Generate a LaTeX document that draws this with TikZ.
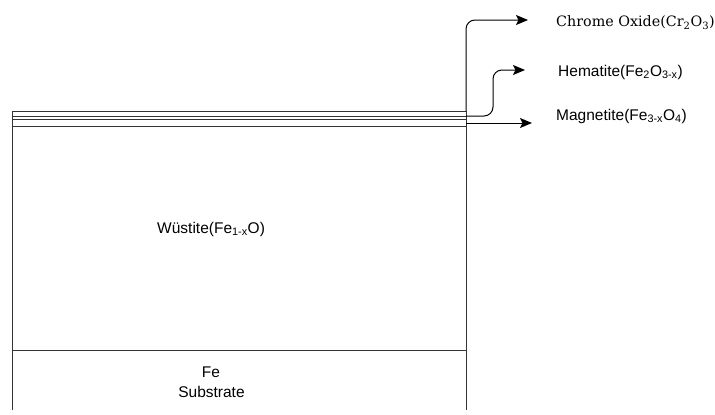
\documentclass[tikz,border=0pt]{standalone}
\usepackage{fontspec}
\setsansfont{Liberation Sans}
\newfontfamily\chromefont{DejaVu Serif}
\usetikzlibrary{arrows.meta}
\begin{document}
\begin{tikzpicture}[x=1pt,y=-1pt,
  layer/.style={draw=black!80, line width=0.9pt},
  arr/.style={draw=black, line width=1pt, rounded corners=9pt,
    -{Stealth[length=12pt,width=10pt,inset=2.5pt]}},
  lab/.style={font=\sffamily\fontsize{15.5}{18}\selectfont, inner sep=0pt},
  serlab/.style={font=\chromefont\fontsize{14.3}{17}\selectfont, inner sep=0pt}]
\useasboundingbox (0,0) rectangle (715,415);
% box corners and layer lines
\coordinate (TL) at (12.5,111);   \coordinate (TR) at (466,111);
\coordinate (L2) at (12.5,116);   \coordinate (R2) at (466,116);
\coordinate (L3) at (12.5,119);   \coordinate (R3) at (466,119);
\coordinate (L4) at (12.5,126);   \coordinate (R4) at (466,126);
\coordinate (L5) at (12.5,350);   \coordinate (R5) at (466,350);
\coordinate (BL) at (12.5,410);   \coordinate (BR) at (466,410);
\coordinate (RM) at (466,123);
\draw[layer] (TL) -- (TR);
\draw[layer] (L2) -- (R2);
\draw[layer] (L3) -- (R3);
\draw[layer] (L4) -- (R4);
\draw[layer] (L5) -- (R5);
\draw[layer] (TL) -- (BL);
\draw[layer] (TR) -- (BR);
% labels
\node[serlab, anchor=base west] (chrome) at (556,27) {Chrome Oxide(Cr\textsubscript{2}O\textsubscript{3})};
\node[lab, anchor=base west] (hem) at (558,76) {Hematite(Fe\textsubscript{2}O\textsubscript{3-x})};
\node[lab, anchor=base west] (mag) at (556,120) {Magnetite(Fe\textsubscript{3-x}O\textsubscript{4})};
\node[lab, anchor=base west] (wus) at (157,233) {Wüstite(Fe\textsubscript{1-x}O)};
\node[lab, anchor=base] (fe) at (211,377) {Fe};
\node[lab, anchor=base] (sub) at (211.5,397) {Substrate};
% arrow ends
\coordinate (cEnd) at (528,20);
\coordinate (hEnd) at (525,70);
\coordinate (mEnd) at (532,123);
\draw[arr] (TR) |- (cEnd);
\draw[arr] (R2) -- (493,116) -- (493,70) -- (hEnd);
\draw[arr, rounded corners=0pt] (RM) -- (mEnd);
\end{tikzpicture}
\end{document}
